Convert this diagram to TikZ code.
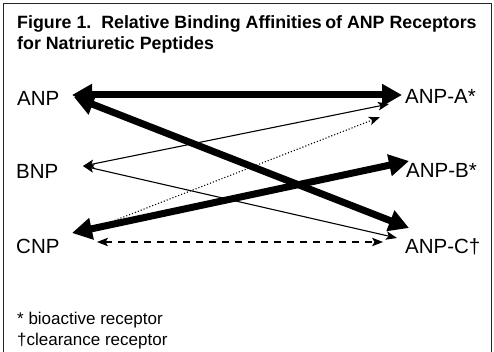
\documentclass[tikz,border=0pt]{standalone}
\usepackage{fontspec}
\setmainfont{Liberation Sans}
\usetikzlibrary{arrows.meta}

\tikzset{
  lbl/.style={inner sep=0pt, anchor=base west, font=\fontsize{20.5}{24}\selectfont},
  head/.style={inner sep=0pt, anchor=base west, font=\fontsize{17.8}{21}\bfseries\selectfont},
  note/.style={inner sep=0pt, anchor=base west, font=\fontsize{17}{21}\selectfont},
  bigtip/.tip={Triangle[length=20pt,width=21pt]},
  smalltip/.tip={Stealth[length=11pt,width=8.5pt,inset=2.5pt]},
  heavy/.style={line width=7pt, bigtip-bigtip},
  light/.style={line width=1.1pt, smalltip-smalltip},
  dotline/.style={line width=1.1pt, dotted, -smalltip},
  dashline/.style={line width=1.1pt, dash pattern=on 7pt off 6pt, smalltip-smalltip},
}

\begin{document}
\begin{tikzpicture}[x=1pt, y=-1pt]
\useasboundingbox (0,0) rectangle (494,352);
\fill[white] (0,0) rectangle (494,352);

% frame (open at the bottom)
\draw[line width=1pt, black!85] (3,352) -- (3,4) -- (491,4) -- (491,352);

% heading
\node[head] (title1) at (17,29) {Figure 1.\ \ Relative Binding Affinities\hspace{-1.5pt} of ANP Receptors};
\node[head] (title2) at (17,50) {for Natriuretic Peptides};

% peptides
\node[lbl] (ANP) at (17,106) {ANP};
\node[lbl] (BNP) at (16,179) {BNP};
\node[lbl] (CNP) at (16,253) {CNP};

% receptors
\node[lbl] (RA) at (405,104) {ANP-A*};
\node[lbl] (RB) at (406,178) {ANP-B*};
\node[lbl] (RC) at (405,253) {ANP-C†};

% arrow end points
\coordinate (anpH) at (72,95);
\coordinate (anpD) at (74,97);
\coordinate (bnpT) at (83,166);
\coordinate (cnpT) at (72,233);
\coordinate (cnpD) at (80,234);
\coordinate (cnpS) at (97,242);
\coordinate (raH) at (402,95);
\coordinate (raT) at (389,104);
\coordinate (raD) at (380,117);
\coordinate (rbH) at (409,161);
\coordinate (rcH) at (409,228);
\coordinate (rcT) at (397,238);
\coordinate (rcS) at (383,242);

% affinities
\draw[light] (bnpT) -- (raT);
\draw[light] (bnpT) -- (rcT);
\draw[dotline] (cnpD) -- (raD);
\draw[dashline] (cnpS) -- (rcS);
\draw[heavy] (anpD) -- (rcH);
\draw[heavy] (cnpT) -- (rbH);
\draw[heavy] (anpH) -- (raH);

% footnotes
\node[note] (n1) at (17,324) {* bioactive receptor};
\node[note] (n2) at (17,345) {†clearance receptor};
\end{tikzpicture}
\end{document}
